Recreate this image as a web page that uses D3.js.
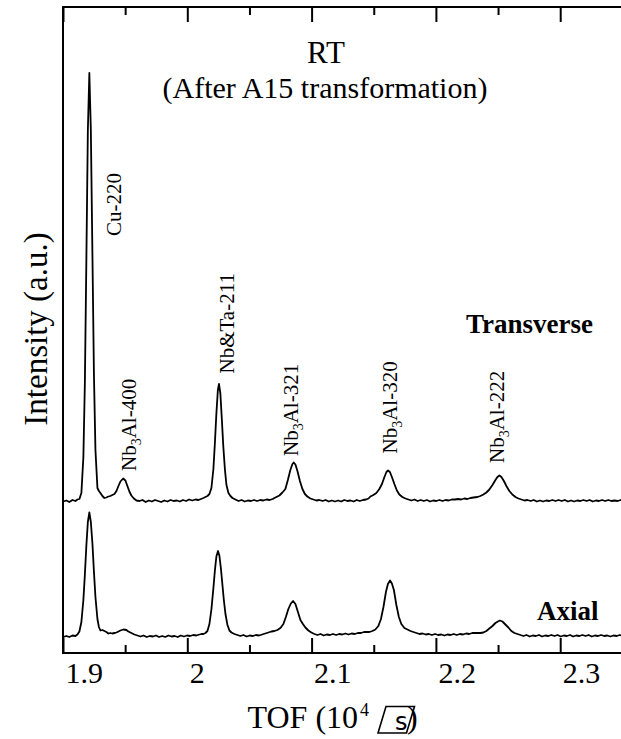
<!DOCTYPE html>
<meta charset="utf-8">
<head>
    <title>TOF diffraction, RT after A15 transformation</title>
</head>
<style>
    body { margin: 0; background: #fff; }
    text { font-family: "Liberation Serif", "Times New Roman", serif; fill: #000; }
</style>
<script src="https://d3js.org/d3.v7.min.js"></script>
<body>
    <div id="chart"></div>
</body>
<script>

    // ---- data ----
    // TOF in 10^4 us, intensity in arbitrary counts
    var tofTicks = [1.9, 2.0, 2.1, 2.2, 2.3];
    var tofTickLabels = ["1.9", "2", "2.1", "2.2", "2.3"];
    var tofMinorTicks = [1.95, 2.05, 2.15, 2.25, 2.35];

    var transverse = [
        [1.9003, 32], [1.9027, 34], [1.9051, 31], [1.9076, 35], [1.9100, 33], [1.9116, 36],
        [1.9132, 37], [1.9148, 49], [1.9164, 121], [1.9176, 270], [1.9188, 515], [1.9200, 775],
        [1.9212, 889], [1.9224, 775], [1.9237, 521], [1.9249, 285], [1.9261, 135], [1.9277, 59],
        [1.9289, 53], [1.9301, 49], [1.9317, 43], [1.9333, 39], [1.9349, 40], [1.9365, 42],
        [1.9381, 43], [1.9397, 45], [1.9414, 47], [1.9430, 53], [1.9446, 63], [1.9462, 72],
        [1.9484, 78], [1.9502, 74], [1.9518, 63], [1.9534, 52], [1.9550, 44], [1.9570, 38],
        [1.9591, 34], [1.9615, 33], [1.9640, 35], [1.9665, 31], [1.9690, 34], [1.9715, 32],
        [1.9740, 35], [1.9765, 33], [1.9790, 31], [1.9815, 34], [1.9840, 32], [1.9865, 35],
        [1.9890, 33], [1.9915, 34], [1.9940, 32], [1.9965, 35], [1.9990, 33], [2.0015, 36],
        [2.0040, 34], [2.0065, 36], [2.0090, 35], [2.0110, 37], [2.0130, 39], [2.0146, 41],
        [2.0162, 43], [2.0178, 47], [2.0194, 59], [2.0210, 97], [2.0222, 149], [2.0234, 208],
        [2.0246, 255], [2.0255, 267], [2.0266, 248], [2.0278, 196], [2.0290, 141], [2.0303, 95],
        [2.0315, 65], [2.0331, 49], [2.0347, 43], [2.0363, 39], [2.0387, 36], [2.0412, 33],
        [2.0437, 35], [2.0462, 32], [2.0487, 34], [2.0512, 33], [2.0537, 35], [2.0562, 33],
        [2.0587, 35], [2.0612, 34], [2.0637, 36], [2.0662, 35], [2.0687, 37], [2.0701, 39],
        [2.0717, 41], [2.0741, 44], [2.0765, 50], [2.0789, 57], [2.0809, 75], [2.0829, 95],
        [2.0846, 107], [2.0856, 110], [2.0870, 106], [2.0886, 93], [2.0906, 73], [2.0926, 57],
        [2.0946, 47], [2.0966, 42], [2.0990, 38], [2.1014, 36], [2.1038, 34], [2.1063, 35],
        [2.1088, 33], [2.1113, 35], [2.1138, 32], [2.1163, 34], [2.1188, 32], [2.1213, 34],
        [2.1238, 32], [2.1263, 35], [2.1288, 33], [2.1313, 34], [2.1338, 32], [2.1363, 35],
        [2.1388, 33], [2.1413, 35], [2.1438, 36], [2.1458, 38], [2.1473, 42], [2.1497, 45],
        [2.1521, 49], [2.1545, 57], [2.1566, 67], [2.1586, 81], [2.1602, 91], [2.1615, 94],
        [2.1630, 91], [2.1646, 81], [2.1666, 67], [2.1686, 54], [2.1706, 46], [2.1730, 41],
        [2.1755, 38], [2.1779, 36], [2.1803, 34], [2.1828, 36], [2.1853, 33], [2.1878, 35],
        [2.1903, 33], [2.1928, 35], [2.1953, 32], [2.1978, 34], [2.2003, 33], [2.2028, 35],
        [2.2053, 33], [2.2078, 35], [2.2103, 34], [2.2128, 36], [2.2153, 36], [2.2178, 37],
        [2.2203, 36], [2.2228, 38], [2.2253, 37], [2.2278, 39], [2.2303, 40], [2.2334, 41],
        [2.2358, 43], [2.2382, 46], [2.2406, 50], [2.2430, 56], [2.2455, 65], [2.2479, 75],
        [2.2495, 81], [2.2511, 84], [2.2527, 81], [2.2547, 73], [2.2567, 63], [2.2591, 53],
        [2.2615, 46], [2.2640, 41], [2.2664, 38], [2.2688, 36], [2.2712, 34], [2.2737, 35],
        [2.2762, 33], [2.2787, 35], [2.2812, 32], [2.2837, 34], [2.2862, 32], [2.2887, 34],
        [2.2912, 33], [2.2937, 35], [2.2962, 33], [2.2987, 35], [2.3012, 33], [2.3037, 35],
        [2.3062, 32], [2.3087, 34], [2.3112, 32], [2.3137, 34], [2.3162, 33], [2.3187, 35],
        [2.3212, 33], [2.3237, 35], [2.3262, 32], [2.3287, 34], [2.3312, 33], [2.3337, 35],
        [2.3362, 33], [2.3387, 35], [2.3412, 33], [2.3437, 34], [2.3462, 33], [2.3487, 35],
        [2.3512, 34]
    ];

    var axial = [
        [1.9003, 32], [1.9027, 34], [1.9051, 32], [1.9076, 35], [1.9100, 34], [1.9116, 37],
        [1.9132, 43], [1.9148, 62], [1.9164, 106], [1.9176, 157], [1.9188, 215], [1.9200, 262],
        [1.9212, 281], [1.9224, 262], [1.9237, 218], [1.9249, 162], [1.9261, 112], [1.9277, 68],
        [1.9289, 52], [1.9301, 45], [1.9317, 46], [1.9333, 44], [1.9349, 42], [1.9365, 39],
        [1.9381, 40], [1.9397, 39], [1.9414, 40], [1.9430, 41], [1.9446, 43], [1.9462, 45],
        [1.9486, 47], [1.9510, 46], [1.9526, 43], [1.9550, 40], [1.9574, 37], [1.9599, 35],
        [1.9623, 33], [1.9648, 35], [1.9673, 32], [1.9698, 34], [1.9723, 33], [1.9748, 35],
        [1.9773, 32], [1.9798, 34], [1.9823, 32], [1.9848, 35], [1.9873, 33], [1.9898, 34],
        [1.9923, 32], [1.9948, 35], [1.9973, 33], [1.9998, 35], [2.0023, 34], [2.0048, 36],
        [2.0073, 35], [2.0098, 37], [2.0113, 38], [2.0130, 38], [2.0146, 40], [2.0162, 44],
        [2.0178, 58], [2.0194, 87], [2.0210, 130], [2.0222, 165], [2.0234, 193], [2.0247, 204],
        [2.0258, 195], [2.0270, 170], [2.0282, 138], [2.0294, 106], [2.0307, 78], [2.0323, 56],
        [2.0339, 45], [2.0355, 41], [2.0379, 38], [2.0403, 36], [2.0427, 34], [2.0452, 36],
        [2.0477, 33], [2.0502, 35], [2.0527, 34], [2.0552, 36], [2.0577, 35], [2.0602, 37],
        [2.0627, 39], [2.0652, 41], [2.0677, 43], [2.0701, 44], [2.0725, 46], [2.0749, 50],
        [2.0773, 58], [2.0793, 72], [2.0813, 88], [2.0833, 99], [2.0851, 104], [2.0870, 98],
        [2.0890, 82], [2.0910, 66], [2.0930, 58], [2.0950, 51], [2.0974, 45], [2.0998, 41],
        [2.1023, 38], [2.1047, 36], [2.1072, 38], [2.1097, 35], [2.1122, 37], [2.1147, 36],
        [2.1172, 38], [2.1197, 36], [2.1222, 38], [2.1247, 37], [2.1272, 39], [2.1297, 37],
        [2.1322, 39], [2.1347, 38], [2.1372, 40], [2.1397, 40], [2.1422, 42], [2.1447, 42],
        [2.1465, 42], [2.1489, 44], [2.1513, 47], [2.1537, 54], [2.1558, 68], [2.1578, 92],
        [2.1598, 122], [2.1614, 138], [2.1631, 145], [2.1646, 139], [2.1662, 126], [2.1682, 96],
        [2.1702, 72], [2.1722, 58], [2.1747, 50], [2.1771, 47], [2.1795, 44], [2.1819, 42],
        [2.1843, 40], [2.1868, 38], [2.1893, 39], [2.1918, 37], [2.1943, 38], [2.1968, 36],
        [2.1993, 38], [2.2018, 36], [2.2043, 37], [2.2068, 35], [2.2093, 37], [2.2118, 36],
        [2.2143, 38], [2.2168, 36], [2.2193, 38], [2.2218, 37], [2.2243, 39], [2.2268, 38],
        [2.2293, 40], [2.2334, 40], [2.2358, 40], [2.2382, 41], [2.2406, 44], [2.2430, 49],
        [2.2455, 54], [2.2479, 60], [2.2499, 63], [2.2515, 65], [2.2535, 63], [2.2559, 57],
        [2.2583, 51], [2.2607, 44], [2.2632, 40], [2.2656, 38], [2.2680, 36], [2.2704, 34],
        [2.2729, 36], [2.2754, 33], [2.2779, 35], [2.2804, 34], [2.2829, 36], [2.2854, 33],
        [2.2879, 35], [2.2904, 34], [2.2929, 36], [2.2954, 34], [2.2979, 36], [2.3004, 33],
        [2.3029, 35], [2.3054, 34], [2.3079, 36], [2.3104, 33], [2.3129, 35], [2.3154, 34],
        [2.3179, 36], [2.3204, 34], [2.3229, 36], [2.3254, 33], [2.3279, 35], [2.3304, 34],
        [2.3329, 36], [2.3354, 34], [2.3379, 35], [2.3404, 33], [2.3429, 35], [2.3454, 34],
        [2.3479, 36], [2.3504, 34]
    ];

    // vertical shift of the transverse pattern (counts)
    var transverseOffset = 271;

    // peak labels: text ("_" marks a subscript), TOF and height (counts) where they start
    var peakNames = ["Cu-220", "Nb_3Al-400", "Nb&Ta-211", "Nb_3Al-321", "Nb_3Al-320", "Nb_3Al-222"];
    var peakLabelTof = [1.9470, 1.9591, 2.0379, 2.0894, 2.1686, 2.2547];
    var peakLabelCounts = [834, 364, 559, 394, 399, 380];


    // ---- layout ----
    var W = 621, H = 739;
    var margin = { top: 7, left: 63 };
    var plotH = 646;

    var svg = d3.select("#chart").append("svg")
        .attr("width", W)
        .attr("height", H);

    var x = d3.scaleLinear()
        .domain([1.9, 2.35])
        .range([margin.left, margin.left + 0.45 * 1243]);

    var y = d3.scaleLinear()
        .domain([0, 1292])
        .range([margin.top + plotH, margin.top]);

    var line = d3.line()
        .x(function (d) { return x(d[0]); })
        .y(function (d) { return y(d[1]); });

    // spectra
    svg.append("path")
        .datum(transverse.map(function (d) { return [d[0], d[1] + transverseOffset]; }))
        .attr("fill", "none")
        .attr("stroke", "#000")
        .attr("stroke-width", 1.8)
        .attr("stroke-linejoin", "round")
        .attr("d", line);

    svg.append("path")
        .datum(axial)
        .attr("fill", "none")
        .attr("stroke", "#000")
        .attr("stroke-width", 1.8)
        .attr("stroke-linejoin", "round")
        .attr("d", line);

    // frame
    svg.append("rect")
        .attr("x", x.range()[0])
        .attr("y", margin.top)
        .attr("width", x.range()[1] - x.range()[0])
        .attr("height", plotH)
        .attr("fill", "none")
        .attr("stroke", "#000")
        .attr("stroke-width", 2);

    // bottom axis
    var gBottom = svg.append("g")
        .attr("transform", "translate(0," + (margin.top + plotH) + ")")
        .call(d3.axisBottom(x).tickValues(tofTicks).tickSize(-15)
            .tickFormat(function (d, i) { return tofTickLabels[i]; }));
    gBottom.append("g")
        .call(d3.axisBottom(x).tickValues(tofMinorTicks).tickSize(-8).tickFormat(""));
    gBottom.selectAll(".domain").remove();
    gBottom.selectAll("line").attr("stroke", "#000").attr("stroke-width", 2);
    gBottom.selectAll("text")
        .attr("text-anchor", "start")
        .attr("x", 2)
        .attr("y", 30)
        .attr("dy", null)
        .style("font-family", "'Liberation Serif', serif")
        .style("font-size", "30px")
        .attr("fill", "#000");

    // top axis (ticks only)
    var gTop = svg.append("g")
        .attr("transform", "translate(0," + margin.top + ")")
        .call(d3.axisTop(x).tickValues(tofTicks).tickSize(-15).tickFormat(""));
    gTop.append("g")
        .call(d3.axisTop(x).tickValues(tofMinorTicks).tickSize(-8).tickFormat(""));
    gTop.selectAll(".domain").remove();
    gTop.selectAll("line").attr("stroke", "#000").attr("stroke-width", 2);

    // title
    svg.append("text")
        .attr("x", 326).attr("y", 63)
        .attr("text-anchor", "middle")
        .style("font-size", "31px")
        .text("RT");
    svg.append("text")
        .attr("x", 325).attr("y", 98)
        .attr("text-anchor", "middle")
        .style("font-size", "30px")
        .text("(After A15 transformation)");

    // y label
    svg.append("text")
        .attr("transform", "translate(47,329) rotate(-90)")
        .attr("text-anchor", "middle")
        .style("font-size", "33px")
        .text("Intensity (a.u.)");

    // x label: TOF (10^4 [box]s)
    var xl = svg.append("g");
    xl.append("text")
        .attr("x", 247.5).attr("y", 728)
        .style("font-size", "32px")
        .text("TOF (10");
    xl.append("text")
        .attr("x", 360).attr("y", 716)
        .style("font-size", "18px")
        .text("4");
    xl.append("path")
        .attr("d", "M378,733 L386,706.5 L414.5,706.5 L406.5,733 Z")
        .attr("fill", "none")
        .attr("stroke", "#000")
        .attr("stroke-width", 1.6);
    xl.append("text")
        .attr("x", 395).attr("y", 730)
        .style("font-family", "'DejaVu Sans', sans-serif")
        .style("font-size", "24px")
        .text("s");
    xl.append("text")
        .attr("x", 407).attr("y", 728)
        .style("font-size", "32px")
        .text(")");

    // sample names
    svg.append("text")
        .attr("x", 466).attr("y", 333)
        .style("font-size", "27px")
        .style("font-weight", "bold")
        .text("Transverse");
    svg.append("text")
        .attr("x", 537).attr("y", 620)
        .style("font-size", "27px")
        .style("font-weight", "bold")
        .text("Axial");

    // peak labels, rotated
    peakNames.forEach(function (name, i) {
        var t = svg.append("text")
            .attr("transform", "translate(" + x(peakLabelTof[i]) + "," + y(peakLabelCounts[i]) + ") rotate(-90)")
            .style("font-size", "21px");
        var parts = name.split("_");
        if (parts.length === 1) {
            t.text(name);
        } else {
            t.append("tspan").text(parts[0]);
            t.append("tspan").attr("dy", 5).style("font-size", "14px").text(parts[1].charAt(0));
            t.append("tspan").attr("dy", -5).text(parts[1].slice(1));
        }
    });

</script>
